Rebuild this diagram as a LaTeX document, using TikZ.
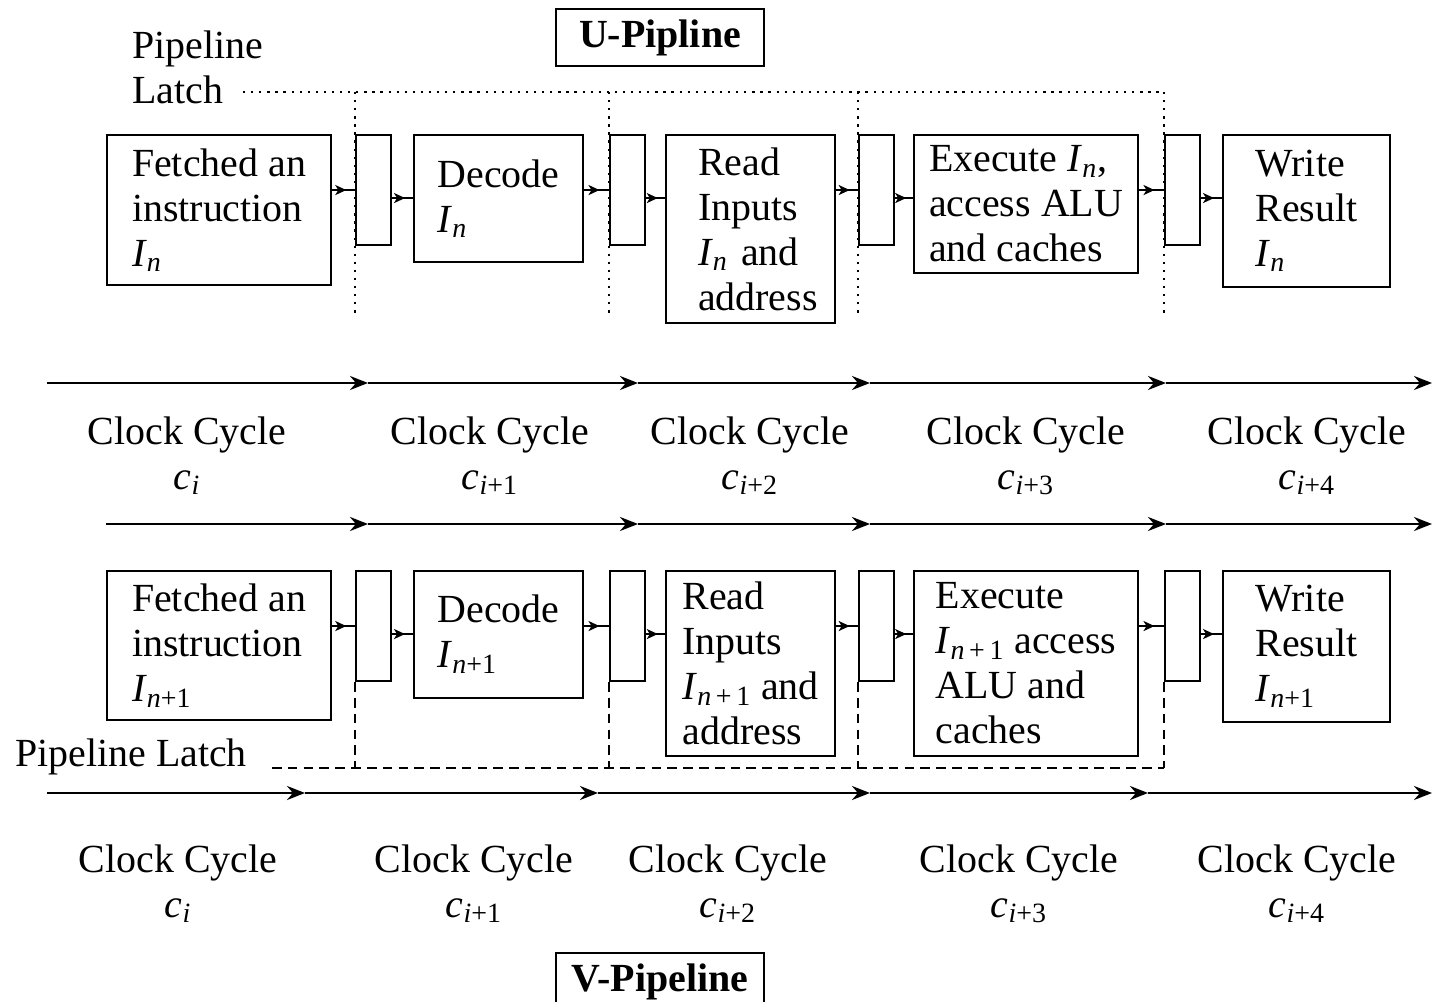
\documentclass[tikz,border=0pt]{standalone}
\usepackage{fontspec}
\setmainfont{Liberation Serif}
\usetikzlibrary{arrows.meta, decorations.markings}

\newcommand{\isub}[2]{\textit{#1}\textsubscript{#2}}

\begin{document}
\begin{tikzpicture}[every node/.style={font=\fontsize{22.7}{25.6}\selectfont},
  stage/.style={draw, line width=1.2pt, align=left, inner sep=0pt, anchor=north west},
  latchbox/.style={draw, line width=1.2pt, minimum width=0.7cm, minimum height=2.2cm, inner sep=0pt, anchor=north west},
  link/.style={line width=1.2pt, postaction={decorate}, decoration={markings, mark=at position 0.62 with {\arrow{Stealth[length=2.2mm, width=2mm, inset=0.6mm]}}}},
  clock/.style={line width=1.6pt, -{Stealth[length=3.6mm, width=2.8mm, inset=1.2mm]}},
  ulatch/.style={line width=1.5pt, dash pattern=on 1.3pt off 3.3pt},
  vlatch/.style={line width=1.3pt, dash pattern=on 5.5pt off 3.5pt},
  cycle label/.style={align=center, inner sep=0pt, anchor=north}]
  \useasboundingbox (0,0) rectangle (28.68,-20.04);

  % U pipeline
  \node[draw, line width=1.2pt, minimum width=4.16cm, minimum height=1.14cm, font=\fontsize{22.7}{25.6}\selectfont\bfseries] (utitle) at (13.2,-0.75) {U-Pipline};
  \node[align=left, inner sep=0pt, anchor=north west] (ulabel) at (2.64,-0.6) {Pipeline\\Latch};

  \node[stage, minimum width=4.48cm, minimum height=3.0cm] (fetchU) at (2.12,-2.68) {Fetched an\\instruction\\\isub{I}{\textit{n}}};
  \node[latchbox] (latchUa) at (7.1,-2.68) {};
  \node[stage, minimum width=3.38cm, minimum height=2.54cm] (decodeU) at (8.26,-2.68) {Decode\\\isub{I}{\textit{n}}};
  \node[latchbox] (latchUb) at (12.18,-2.68) {};
  \node[stage, minimum width=3.38cm, minimum height=3.76cm, text width=2.1cm, inner xsep=0.64cm] (readU) at (13.3,-2.68) {Read\\Inputs\\\isub{I}{\textit{n}}~and\\address};
  \node[latchbox] (latchUc) at (17.16,-2.68) {};
  \node[stage, minimum width=4.48cm, minimum height=2.76cm] (execU) at (18.26,-2.68) {Execute \isub{I}{\textit{n}},\\access ALU\\and caches};
  \node[latchbox] (latchUd) at (23.28,-2.68) {};
  \node[stage, minimum width=3.34cm, minimum height=3.04cm] (writeU) at (24.44,-2.68) {Write\\Result\\\isub{I}{\textit{n}}};

  \coordinate (ulStart) at (4.86,-1.84);
  \coordinate (ulFoot) at (0,-6.36);
  \draw[ulatch] (ulStart) -- (ulStart -| latchUd.west);
  \foreach \l in {latchUa, latchUb, latchUc, latchUd}
    \draw[ulatch] (\l.west |- ulStart) -- (\l.west |- ulFoot);

  % V pipeline
  \node[stage, minimum width=4.48cm, minimum height=2.98cm] (fetchV) at (2.12,-11.4) {Fetched an\\instruction\\\isub{I}{\textit{n}+1}};
  \node[latchbox] (latchVa) at (7.1,-11.4) {};
  \node[stage, minimum width=3.38cm, minimum height=2.54cm] (decodeV) at (8.26,-11.4) {Decode\\\isub{I}{\textit{n}+1}};
  \node[latchbox] (latchVb) at (12.18,-11.4) {};
  \node[stage, minimum width=3.38cm, minimum height=3.7cm] (readV) at (13.3,-11.4) {Read\\Inputs\\\isub{I}{\textit{n}\,+\,1} and\\address};
  \node[latchbox] (latchVc) at (17.16,-11.4) {};
  \node[stage, minimum width=4.48cm, minimum height=3.7cm] (execV) at (18.26,-11.4) {Execute\\\isub{I}{\textit{n}\,+\,1} access\\ALU and\\caches};
  \node[latchbox] (latchVd) at (23.28,-11.4) {};
  \node[stage, minimum width=3.34cm, minimum height=3.02cm] (writeV) at (24.44,-11.4) {Write\\Result\\\isub{I}{\textit{n}+1}};

  \node[inner sep=0pt, anchor=base west] (vlabel) at (0.3,-15.32) {Pipeline Latch};
  \coordinate (vlStart) at (5.44,-15.36);
  \draw[vlatch] (vlStart) -- (vlStart -| latchVd.west);
  \foreach \l in {latchVa, latchVb, latchVc, latchVd}
    \draw[vlatch] (\l.south west) -- (\l.south west |- vlStart);

  \node[draw, line width=1.2pt, minimum width=4.16cm, minimum height=1.14cm, font=\fontsize{22.7}{25.6}\selectfont\bfseries] (vtitle) at (13.2,-19.63) {V-Pipeline};

  % stage -> latch -> stage
  \foreach \a/\l/\b in {fetchU/latchUa/decodeU, decodeU/latchUb/readU, readU/latchUc/execU, execU/latchUd/writeU,
                        fetchV/latchVa/decodeV, decodeV/latchVb/readV, readV/latchVc/execV, execV/latchVd/writeV} {
    \draw[link] (\a.east |- \l.west) -- (\l.west);
    \draw[link] ([yshift=-1.6mm]\l.east) -- ([yshift=-1.6mm]\l.east -| \b.west);
  }

  % clock cycle time lines
  \foreach \r/\y/\s/\tips in {a/-7.66/0.94/{7.36,12.76,17.4,23.32,28.64},
                             b/-10.48/2.12/{7.36,12.76,17.4,23.32,28.64},
                             c/-15.86/0.94/{6.1,11.96,17.4,22.96,28.64}} {
    \coordinate (ck\r0) at (\s,\y);
    \foreach \x [count=\k] in \tips
      \coordinate (ck\r\k) at (\x,\y);
    \foreach \k [remember=\k as \p (initially 0)] in {1,...,5}
      \draw[clock] (ck\r\p) -- (ck\r\k);
  }

  \node[cycle label] (cua) at (3.74,-8.32) {Clock Cycle\\\isub{c}{\textit{i}}};
  \node[cycle label] (cub) at (9.8,-8.32) {Clock Cycle\\\isub{c}{\textit{i}+1}};
  \node[cycle label] (cuc) at (15.0,-8.32) {Clock Cycle\\\isub{c}{\textit{i}+2}};
  \node[cycle label] (cud) at (20.52,-8.32) {Clock Cycle\\\isub{c}{\textit{i}+3}};
  \node[cycle label] (cue) at (26.14,-8.32) {Clock Cycle\\\isub{c}{\textit{i}+4}};

  \node[cycle label] (cva) at (3.56,-16.88) {Clock Cycle\\\isub{c}{\textit{i}}};
  \node[cycle label] (cvb) at (9.48,-16.88) {Clock Cycle\\\isub{c}{\textit{i}+1}};
  \node[cycle label] (cvc) at (14.56,-16.88) {Clock Cycle\\\isub{c}{\textit{i}+2}};
  \node[cycle label] (cvd) at (20.38,-16.88) {Clock Cycle\\\isub{c}{\textit{i}+3}};
  \node[cycle label] (cve) at (25.94,-16.88) {Clock Cycle\\\isub{c}{\textit{i}+4}};
\end{tikzpicture}
\end{document}
